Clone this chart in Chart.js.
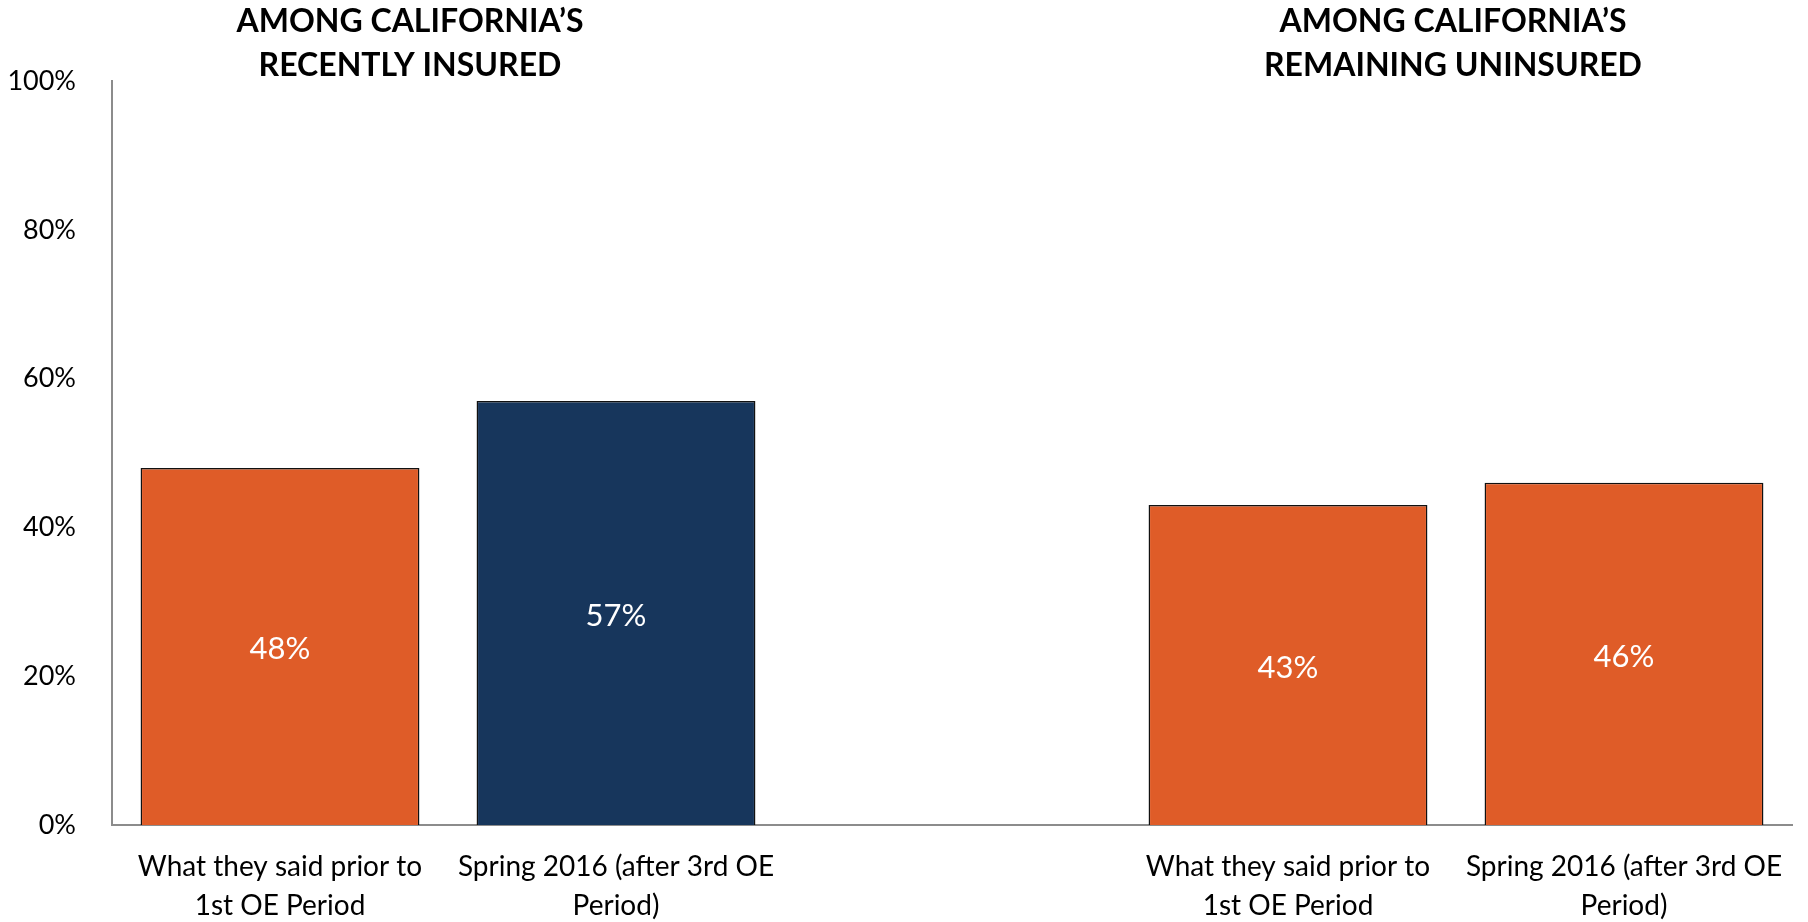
<!DOCTYPE html>
<html>
<head>
<meta charset="utf-8">
<script src="https://cdn.jsdelivr.net/npm/chart.js@4/dist/chart.umd.min.js"></script>
<style>
  html, body { margin: 0; padding: 0; background: #fff; }
  #wrap { width: 1808px; height: 922px; }
</style>
</head>
<body>
<div id="wrap"><canvas id="chart"></canvas></div>
<script>
// categories (empty slot keeps the gap between the two groups)
const categories = [
    ['What they said prior to', '1st OE Period'],
    ['Spring 2016 (after 3rd OE', 'Period)'],
    '',
    ['What they said prior to', '1st OE Period'],
    ['Spring 2016 (after 3rd OE', 'Period)']
];
const shares = [48, 57, null, 43, 46];
const barColors = ['#DF5C28', '#17365C', '#DF5C28', '#DF5C28', '#DF5C28'];
const groupTitles = [
    ['AMONG CALIFORNIA\u2019S', 'RECENTLY INSURED'],
    ['AMONG CALIFORNIA\u2019S', 'REMAINING UNINSURED']
];
const yTicks = [0, 20, 40, 60, 80, 100];

const FONT = 'Lato, "Open Sans", sans-serif';

// white value labels in the middle of each bar + group headings
const labelsPlugin = {
    id: 'labels',
    afterDatasetsDraw(chart) {
        const ctx = chart.ctx;
        const meta = chart.getDatasetMeta(0);
        ctx.save();
        ctx.fillStyle = '#fff';
        ctx.font = '31px ' + FONT;
        ctx.textAlign = 'center';
        ctx.textBaseline = 'middle';
        meta.data.forEach((bar, i) => {
            if (shares[i] == null) return;
            const mid = (bar.y + bar.base) / 2;
            ctx.fillText(shares[i] + '%', bar.x, mid + 3);
        });

        // headings sit above each pair of bars
        const x = chart.scales.x;
        const centers = [
            (x.getPixelForValue(0) + x.getPixelForValue(1)) / 2 - 38,
            (x.getPixelForValue(3) + x.getPixelForValue(4)) / 2 - 3
        ];
        ctx.fillStyle = '#000';
        ctx.font = 'bold 32px ' + FONT;
        groupTitles.forEach((lines, g) => {
            lines.forEach((t, k) => {
                ctx.fillText(t, centers[g], 22 + k * 44);
            });
        });
        ctx.restore();
    }
};

new Chart(document.querySelector('#chart').getContext('2d'), {
    type: 'bar',
    data: {
        labels: categories,
        datasets: [{
            data: shares,
            backgroundColor: barColors,
            borderColor: '#111',
            borderWidth: 1.5,
            borderSkipped: 'bottom',
            categoryPercentage: 1,
            barPercentage: 0.83
        }]
    },
    options: {
        responsive: true,
        maintainAspectRatio: false,
        animation: false,
        layout: { padding: { top: 81, right: 16, left: 0, bottom: 0 } },
        plugins: {
            legend: { display: false },
            tooltip: { enabled: false }
        },
        scales: {
            x: {
                grid: { display: false },
                border: { color: '#8c8c8c', width: 2 },
                ticks: {
                    color: '#000',
                    font: { family: FONT, size: 28, lineHeight: 1.4 },
                    maxRotation: 0,
                    autoSkip: false,
                    padding: 14
                },
                afterFit(scale) { scale.height = 97; }
            },
            y: {
                min: 0,
                max: 100,
                grid: { display: false },
                border: { color: '#8c8c8c', width: 2 },
                afterBuildTicks(scale) {
                    scale.ticks = yTicks.map(v => ({ value: v }));
                },
                ticks: {
                    color: '#000',
                    font: { family: FONT, size: 27 },
                    padding: 28,
                    callback: v => v + '%'
                },
                afterFit(scale) { scale.width = 112; }
            }
        }
    },
    plugins: [labelsPlugin]
});
</script>
</body>
</html>
